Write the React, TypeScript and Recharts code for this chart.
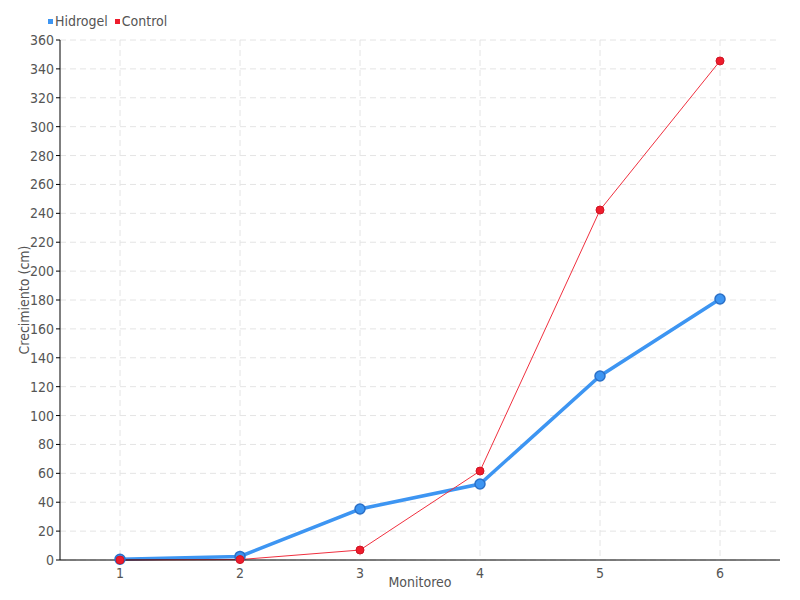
import { LineChart, Line, XAxis, YAxis, CartesianGrid } from 'recharts';

const monitoreo = ['1', '2', '3', '4', '5', '6'];
const hidrogel = [0.5, 2.5, 35.3, 52.6, 127.4, 180.7];
const control = [0, 0.3, 6.9, 61.6, 242.3, 345.5];
const yTicks = [0, 20, 40, 60, 80, 100, 120, 140, 160, 180, 200, 220, 240, 260, 280, 300, 320, 340, 360];

const data = monitoreo.map((m, i) => ({ m, hidrogel: hidrogel[i], control: control[i] }));

const FONT = '"DejaVu Sans Condensed", "DejaVu Sans", sans-serif';
const textStyle = { fontStretch: 'condensed' as const };

const legendItems = [
  { name: 'Hidrogel', color: '#3d95f2' },
  { name: 'Control', color: '#ee1c2c' },
];

function LegendBox() {
  return (
    <div style={{ position: 'absolute', left: 48, top: 12, display: 'flex', fontFamily: FONT, fontStretch: 'condensed', fontSize: 14, color: '#555', lineHeight: '18px' }}>
      {legendItems.map((it) => (
        <span key={it.name} style={{ display: 'flex', alignItems: 'center', marginRight: 7 }}>
          <span style={{ width: 5, height: 5, background: it.color, display: 'inline-block', marginRight: 2 }} />
          {it.name}
        </span>
      ))}
    </div>
  );
}

export default function App() {
  return (
    <div style={{ position: 'absolute', left: 0, top: 0, width: 800, height: 600, background: '#fff' }}>
      <LineChart width={800} height={600} data={data} margin={{ top: 40, right: 20, bottom: 0, left: 0 }}>
        <CartesianGrid stroke="#e4e4e4" strokeDasharray="6 4" syncWithTicks />
        <XAxis
          dataKey="m"
          height={40}
          padding={{ left: 60, right: 60 }}
          stroke="#000"
          tickLine={false}
          tick={{ fill: '#555', fontSize: 14, fontFamily: FONT, style: textStyle }}
          label={{ value: 'Monitoreo', position: 'insideBottom', offset: 13, fill: '#555', fontSize: 14, fontFamily: FONT, style: textStyle }}
        />
        <YAxis
          width={60}
          domain={[0, 360]}
          ticks={yTicks}
          interval={0}
          stroke="#000"
          tickSize={4}
          tick={{ fill: '#555', fontSize: 14, fontFamily: FONT, style: textStyle }}
          label={{ value: 'Crecimiento (cm)', angle: -90, position: 'insideLeft', offset: 24, fill: '#555', fontSize: 14, fontFamily: FONT, style: { ...textStyle, textAnchor: 'middle' } }}
        />
        <Line
          dataKey="hidrogel"
          stroke="#3d95f2"
          strokeWidth={3.5}
          dot={{ r: 5, fill: '#3d95f2', stroke: '#2a70c8', strokeWidth: 1.5 }}
          isAnimationActive={false}
        />
        <Line
          dataKey="control"
          stroke="#f0303f"
          strokeWidth={1}
          dot={{ r: 4, fill: '#ee1c2c', stroke: '#d01424', strokeWidth: 1 }}
          isAnimationActive={false}
        />
      </LineChart>
      <LegendBox />
    </div>
  );
}
